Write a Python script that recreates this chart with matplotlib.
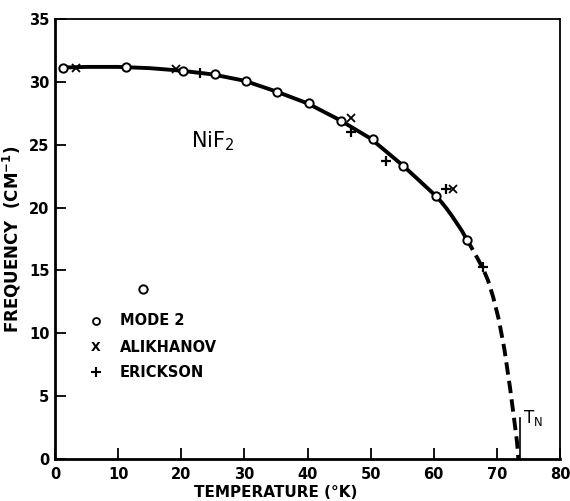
import numpy as np
import matplotlib
matplotlib.use('Agg')
from matplotlib import pyplot as plt

# =============================================================================
# DATA
# =============================================================================

# Mode 2 (open circles)
mode2_T = [1.3, 11.3, 20.2, 25.3, 30.3, 35.2, 40.2, 45.3, 50.3, 55.2, 60.4, 65.2, 13.9]
mode2_f = [31.15, 31.2, 30.9, 30.6, 30.1, 29.2, 28.3, 26.9, 25.5, 23.3, 20.9, 17.4, 13.5]

# Alikhanov (x)
alik_T = [3.3, 19.2, 46.9, 63.1]
alik_f = [31.15, 31.0, 27.1, 21.5]

# Erickson (+)
erick_T = [22.9, 46.9, 52.4, 62.0, 67.8]
erick_f = [30.75, 26.0, 23.7, 21.5, 15.3]

# guide curve, solid part then dashed part
solid_T = [1.3, 5, 10, 15, 20, 25, 30, 35, 40, 45, 50, 55, 57.5,
           60.4, 61.2, 62.0, 62.8, 63.6, 64.4, 65.2]
solid_f = [31.15, 31.2, 31.2, 31.1, 30.9, 30.6, 30.1, 29.25, 28.3, 27.0, 25.5, 23.4, 22.25,
           20.9, 20.45, 19.95, 19.4, 18.8, 18.2, 17.5]
dash_T = [65.2, 66.0, 67.0, 67.8, 68.6, 69.4, 70.3, 71.2, 72.1, 72.8, 73.2, 73.4]
dash_f = [17.5, 16.8, 15.9, 15.15, 14.2, 12.9, 11.1, 8.7, 5.6, 2.9, 1.3, 0.0]

T_neel = 73.6

xticks = [0, 10, 20, 30, 40, 50, 60, 70, 80]
yticks = [0, 5, 10, 15, 20, 25, 30, 35]

legend_labels = ['MODE 2', 'ALIKHANOV', 'ERICKSON']
legend_f = [11.0, 8.9, 6.9]

# =============================================================================
# PLOT
# =============================================================================

plt.rcParams['font.family'] = 'DejaVu Sans'

fig = plt.figure(figsize=(5.7, 5.01), dpi=100)
ax = fig.add_axes([0.0965, 0.0838, 0.886, 0.878])

ax.plot(solid_T, solid_f, '-', color='k', lw=2.8, solid_capstyle='butt', solid_joinstyle='round')
ax.plot(dash_T, dash_f, '--', color='k', lw=2.8, dashes=(3.2, 1.6))

ax.plot(mode2_T, mode2_f, 'o', ms=6, mfc='white', mec='k', mew=1.4, ls='none', zorder=5)
ax.plot(alik_T, alik_f, 'x', ms=6, color='k', mew=1.3, ls='none', zorder=5)
ax.plot(erick_T, erick_f, '+', ms=7, color='k', mew=1.6, ls='none', zorder=5)

# T_N marker
ax.plot([T_neel, T_neel], [0, 3.3], color='k', lw=1.2)
ax.text(T_neel + 0.6, 3.3, r'T$_\mathregular{N}$', fontsize=12, ha='left', va='center')

ax.text(21.5, 25.3, r'NiF$_2$', fontsize=15, ha='left', va='center')

# legend drawn by hand like the original
ax.plot([6.5], [legend_f[0]], 'o', ms=5, mfc='white', mec='k', mew=1.3)
ax.text(6.5, legend_f[1], 'X', fontsize=9, fontweight='bold', ha='center', va='center')
ax.plot([6.5], [legend_f[2]], '+', ms=7, color='k', mew=1.5)
for lab, yy in zip(legend_labels, legend_f):
    ax.text(10.3, yy, lab, fontsize=10.5, fontweight='bold', ha='left', va='center')

ax.set_xlim(0, 80)
ax.set_ylim(0, 35)
ax.set_xticks(xticks)
ax.set_yticks(yticks)
ax.tick_params(direction='in', length=8, width=1.3, labelsize=10.5, pad=6)
ax.tick_params(axis='x', top=False)
ax.tick_params(axis='y', right=False, pad=4)
for lbl in ax.get_xticklabels() + ax.get_yticklabels():
    lbl.set_fontweight('bold')
for s in ['left', 'bottom']:
    ax.spines[s].set_linewidth(2.0)
for s in ['top', 'right']:
    ax.spines[s].set_linewidth(1.3)

ax.set_xlabel('TEMPERATURE (°K)', fontsize=11, fontweight='bold')
ax.xaxis.set_label_coords(0.436, -0.058)
ax.set_ylabel(r'FREQUENCY  (CM$^{\mathbf{-1}}$)', fontsize=12, fontweight='bold', labelpad=4)

fig.savefig('out.png', dpi=100)
